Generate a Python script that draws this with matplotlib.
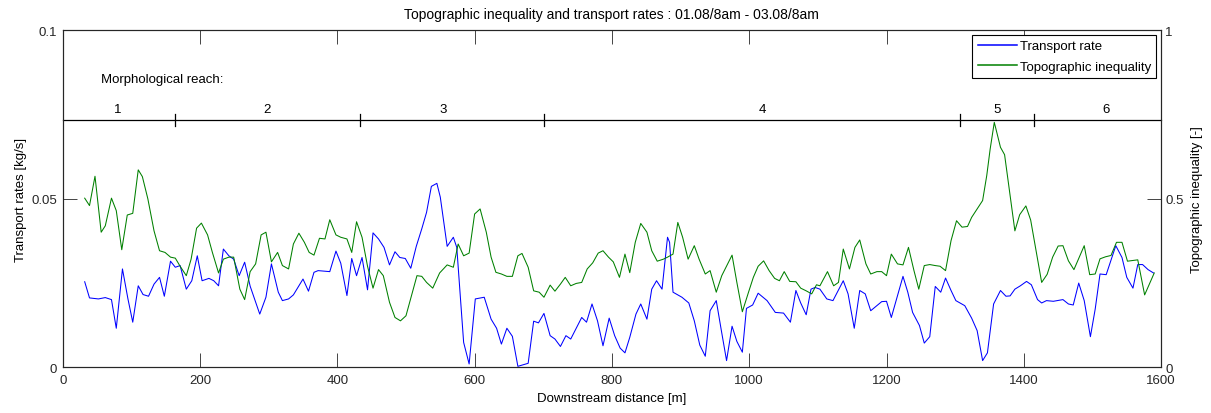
import matplotlib
matplotlib.use("Agg")
import matplotlib.pyplot as plt

plt.rcParams['font.family'] = ['Liberation Sans', 'DejaVu Sans']
plt.rcParams['font.size'] = 9.5

# Transport rate along the channel [kg/s]
rate_dist = [32, 39, 52, 62, 71, 78, 87, 95, 102, 110, 117, 125, 133, 141, 148, 157, 164, 171, 180, 188,
             196, 203, 213, 220, 227, 234, 242, 249, 257, 265, 273, 287, 296, 304, 314, 320, 329, 336, 350, 358,
             366, 372, 389, 398, 405, 414, 421, 428, 436, 444, 452, 460, 468, 476, 484, 491, 499, 507, 515, 523,
             530, 537, 545, 550, 560, 569, 574, 584, 592, 601, 614, 624, 632, 639, 647, 655, 663, 678, 686, 693,
             701, 710, 717, 725, 733, 740, 756, 763, 771, 779, 787, 796, 804, 812, 819, 826, 835, 842, 851, 858,
             865, 873, 881, 884, 889, 902, 912, 920, 928, 936, 943, 952, 959, 967, 975, 982, 990, 996, 1005, 1013,
             1026, 1038, 1050, 1060, 1068, 1075, 1083, 1090, 1096, 1103, 1113, 1122, 1137, 1144, 1153, 1161, 1169,
             1177, 1186, 1193, 1200, 1207, 1224, 1231, 1238, 1248, 1255, 1263, 1271, 1279, 1286, 1294, 1301, 1314,
             1324, 1332, 1340, 1347, 1356, 1366, 1374, 1380, 1387, 1395, 1404, 1411, 1420, 1426, 1433, 1443, 1457,
             1465, 1472, 1480, 1488, 1497, 1504, 1511, 1520, 1534, 1543, 1550, 1559, 1566, 1573, 1581, 1589]
rate = [0.0253, 0.0205, 0.0202, 0.0206, 0.0200, 0.0115, 0.0291, 0.0202, 0.0133, 0.0241, 0.0215, 0.0210,
        0.0246, 0.0266, 0.0210, 0.0314, 0.0296, 0.0301, 0.0231, 0.0256, 0.0330, 0.0256, 0.0263, 0.0256,
        0.0241, 0.0350, 0.0330, 0.0320, 0.0271, 0.0311, 0.0240, 0.0157, 0.0207, 0.0306, 0.0222, 0.0197,
        0.0202, 0.0214, 0.0261, 0.0225, 0.0281, 0.0286, 0.0283, 0.0344, 0.0308, 0.0212, 0.0322, 0.0271,
        0.0325, 0.0229, 0.0398, 0.0380, 0.0355, 0.0303, 0.0342, 0.0325, 0.0322, 0.0293, 0.0358, 0.0410,
        0.0459, 0.0536, 0.0545, 0.0504, 0.0358, 0.0385, 0.0355, 0.0073, 0.0009, 0.0202, 0.0207, 0.0142,
        0.0115, 0.0068, 0.0115, 0.0091, 0.0002, 0.0011, 0.0136, 0.0131, 0.0159, 0.0093, 0.0083, 0.0061,
        0.0093, 0.0083, 0.0147, 0.0133, 0.0187, 0.0137, 0.0063, 0.0145, 0.0093, 0.0056, 0.0042, 0.0088,
        0.0157, 0.0187, 0.0142, 0.0231, 0.0256, 0.0231, 0.0385, 0.0370, 0.0222, 0.0207, 0.0190, 0.0137,
        0.0065, 0.0032, 0.0167, 0.0197, 0.0113, 0.0019, 0.0121, 0.0076, 0.0044, 0.0174, 0.0184, 0.0219,
        0.0197, 0.0162, 0.0160, 0.0133, 0.0227, 0.0190, 0.0155, 0.0231, 0.0236, 0.0231, 0.0202, 0.0197,
        0.0256, 0.0217, 0.0115, 0.0227, 0.0217, 0.0167, 0.0182, 0.0194, 0.0195, 0.0147, 0.0269, 0.0222,
        0.0162, 0.0123, 0.0071, 0.0090, 0.0239, 0.0222, 0.0264, 0.0227, 0.0197, 0.0182, 0.0145, 0.0108,
        0.0019, 0.0042, 0.0187, 0.0227, 0.0210, 0.0211, 0.0231, 0.0241, 0.0254, 0.0244, 0.0200, 0.0190,
        0.0197, 0.0195, 0.0200, 0.0187, 0.0184, 0.0249, 0.0197, 0.0090, 0.0172, 0.0276, 0.0274, 0.0360,
        0.0325, 0.0266, 0.0234, 0.0304, 0.0304, 0.0289, 0.0279]

# Topographic inequality along the channel [-]
ineq_dist = [32, 39, 47, 56, 62, 71, 78, 86, 94, 102, 110, 116, 124, 133, 141, 149, 157, 164, 171, 180,
             187, 195, 202, 211, 218, 227, 234, 242, 249, 258, 265, 273, 281, 289, 296, 304, 313, 320, 329, 336,
             344, 352, 359, 366, 374, 382, 389, 398, 405, 414, 421, 428, 436, 444, 452, 460, 467, 476, 484, 492,
             500, 508, 516, 523, 530, 539, 549, 560, 569, 576, 584, 592, 600, 608, 617, 624, 631, 639, 647, 655,
             663, 669, 678, 686, 694, 701, 710, 717, 725, 732, 740, 748, 756, 764, 772, 780, 787, 795, 802, 811,
             819, 826, 834, 842, 851, 858, 866, 875, 881, 889, 896, 903, 911, 920, 927, 936, 943, 952, 960, 975,
             982, 990, 999, 1006, 1013, 1021, 1029, 1037, 1044, 1051, 1059, 1068, 1075, 1083, 1091, 1098, 1103,
             1114, 1123, 1130, 1137, 1146, 1154, 1161, 1170, 1177, 1186, 1193, 1200, 1207, 1216, 1224, 1232, 1240,
             1247, 1255, 1263, 1271, 1278, 1286, 1294, 1302, 1310, 1318, 1324, 1332, 1340, 1346, 1351, 1357, 1366,
             1372, 1387, 1394, 1403, 1410, 1426, 1434, 1442, 1450, 1457, 1465, 1473, 1488, 1496, 1504, 1511, 1519,
             1527, 1535, 1543, 1551, 1566, 1576, 1590]
ineq = [0.501, 0.479, 0.566, 0.400, 0.419, 0.501, 0.464, 0.348, 0.451, 0.456, 0.585, 0.565, 0.499, 0.404,
        0.345, 0.340, 0.326, 0.323, 0.299, 0.271, 0.320, 0.412, 0.427, 0.392, 0.340, 0.279, 0.320, 0.326,
        0.326, 0.231, 0.200, 0.283, 0.306, 0.392, 0.400, 0.312, 0.340, 0.301, 0.291, 0.365, 0.397, 0.370,
        0.340, 0.332, 0.382, 0.380, 0.437, 0.392, 0.385, 0.380, 0.340, 0.431, 0.385, 0.299, 0.234, 0.289,
        0.271, 0.192, 0.147, 0.137, 0.152, 0.212, 0.271, 0.269, 0.251, 0.234, 0.279, 0.303, 0.296, 0.365,
        0.330, 0.338, 0.454, 0.469, 0.400, 0.326, 0.281, 0.276, 0.269, 0.269, 0.330, 0.337, 0.296, 0.226,
        0.222, 0.207, 0.243, 0.225, 0.246, 0.266, 0.241, 0.248, 0.251, 0.291, 0.309, 0.338, 0.345, 0.326,
        0.312, 0.266, 0.335, 0.280, 0.370, 0.426, 0.400, 0.345, 0.314, 0.320, 0.326, 0.335, 0.429, 0.385,
        0.320, 0.360, 0.320, 0.276, 0.286, 0.222, 0.271, 0.332, 0.251, 0.164, 0.222, 0.266, 0.299, 0.315,
        0.286, 0.263, 0.256, 0.283, 0.254, 0.253, 0.234, 0.226, 0.217, 0.244, 0.241, 0.283, 0.241, 0.251,
        0.350, 0.291, 0.355, 0.377, 0.306, 0.276, 0.283, 0.283, 0.271, 0.335, 0.306, 0.303, 0.355, 0.286,
        0.231, 0.301, 0.304, 0.301, 0.299, 0.286, 0.375, 0.434, 0.415, 0.417, 0.444, 0.469, 0.494, 0.568,
        0.647, 0.726, 0.652, 0.630, 0.404, 0.452, 0.478, 0.436, 0.251, 0.275, 0.326, 0.359, 0.360, 0.315,
        0.289, 0.360, 0.274, 0.276, 0.321, 0.327, 0.331, 0.370, 0.370, 0.314, 0.318, 0.214, 0.279]

# Morphological reaches: boundaries and label positions [m]
reach_bounds = [163, 433, 701, 1307, 1415]
reach_labels = ['1', '2', '3', '4', '5', '6']
reach_label_pos = [80, 298, 554, 1019, 1361, 1520]
reach_level = 0.0733

fig = plt.figure(figsize=(12.11, 4.14), dpi=100)
ax = fig.add_axes([0.0518, 0.1111, 0.9070, 0.8140])
ax2 = ax.twinx()

l1, = ax.plot(rate_dist, rate, color=(0, 0, 1), lw=0.75)
l2, = ax2.plot(ineq_dist, ineq, color=(0, 0.5, 0), lw=0.75)

ax.set_xlim(0, 1600)
ax.set_ylim(0, 0.1)
ax2.set_ylim(0, 1)
ax.set_xticks(range(0, 1601, 200))
ax.set_yticks([0, 0.05, 0.1])
ax.set_yticklabels(['0', '0.05', '0.1'])
ax2.set_yticks([0, 0.5, 1])
ax2.set_yticklabels(['0', '0.5', '1'])

for a in (ax, ax2):
    for s in a.spines.values():
        s.set_linewidth(0.8)
        s.set_color('#262626')
ax.tick_params(axis='x', direction='in', top=True, length=10, width=0.6, pad=5, colors='#262626')
ax.tick_params(axis='y', direction='in', length=10, width=0.6, pad=4, colors='#262626')
ax2.tick_params(axis='y', direction='in', length=10, width=0.6, pad=3, colors='#262626')

# reach divider line with boundary marks
ax.plot([0, 1600], [reach_level, reach_level], color='black', lw=0.9, clip_on=False)
for b in reach_bounds:
    ax.plot([b, b], [reach_level - 0.0018, reach_level + 0.0018], color='black', lw=0.9)
for lab, xp in zip(reach_labels, reach_label_pos):
    ax.text(xp, reach_level + 0.0016, lab, ha='center', va='bottom', fontsize=9.5)
ax.text(56, 0.0855, 'Morphological reach:', ha='left', va='center', fontsize=9.5)

ax.set_xlabel('Downstream distance [m]', labelpad=4)
ax.set_ylabel('Transport rates [kg/s]', labelpad=3)
ax2.set_ylabel('Topographic inequality [-]', labelpad=5)
ax.set_title('Topographic inequality and transport rates : 01.08/8am - 03.08/8am', pad=9, fontsize=10)

leg = ax2.legend([l1, l2], ['Transport rate', 'Topographic inequality'], loc='upper right',
                 fancybox=False, edgecolor='black', framealpha=1, handlelength=3.0,
                 handletextpad=0.2, borderaxespad=0.35, borderpad=0.4, labelspacing=0.65,
                 fontsize=9.5)
leg.get_frame().set_linewidth(0.8)
for h in leg.get_lines():
    h.set_linewidth(1.1)

fig.savefig('out.png', dpi=100)
